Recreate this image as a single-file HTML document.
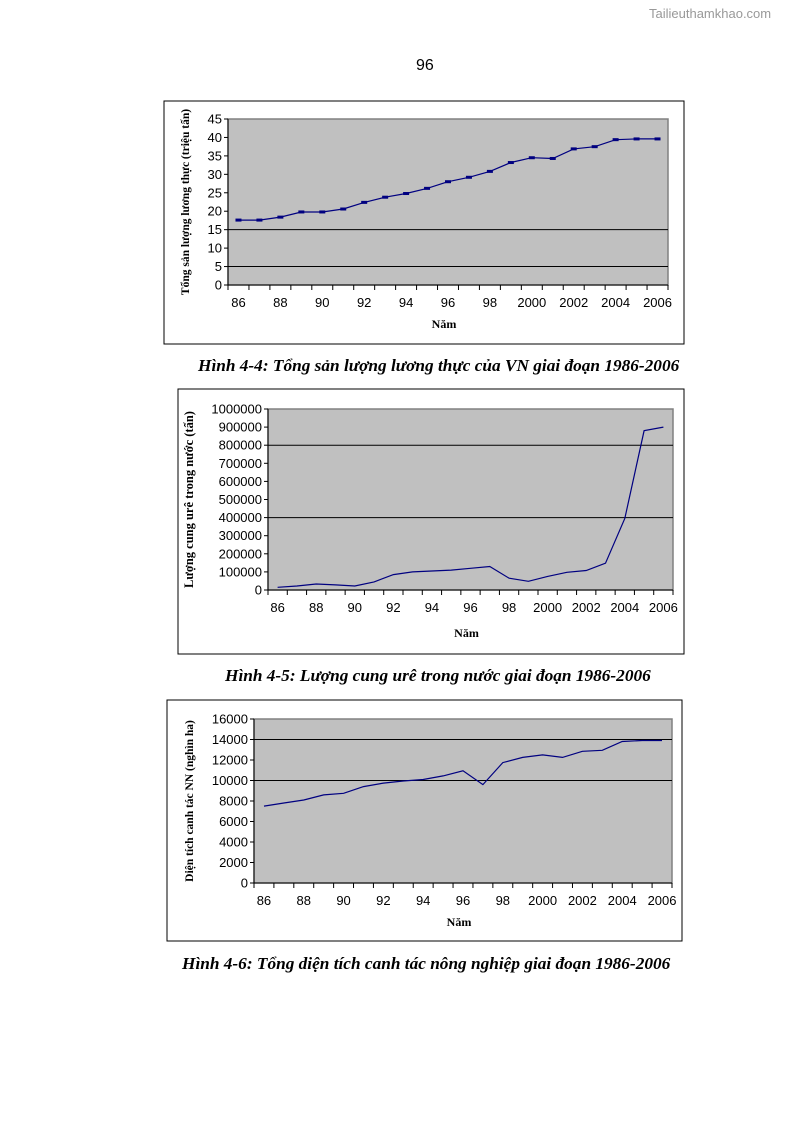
<!DOCTYPE html>
<html><head><meta charset="utf-8">
<style>
body{margin:0;width:794px;height:1123px;background:#fff;position:relative;overflow:hidden;font-family:"Liberation Sans",sans-serif}
.abs{position:absolute}
.cap{position:absolute;font-family:"Liberation Serif",serif;font-style:italic;font-weight:bold;font-size:17.3px;white-space:nowrap}
</style></head><body>
<div class="abs" style="left:649px;top:6px;font-size:13px;color:#999">Tailieuthamkhao.com</div>
<div class="abs" style="left:416px;top:57px;font-size:16px">96</div>
<svg id="svg" class="abs" style="left:0;top:0" width="794" height="1123"></svg>
<div class="cap" style="left:198px;top:356px">Hình 4-4: Tổng sản lượng lương thực của VN giai đoạn 1986-2006</div>
<div class="cap" style="left:225px;top:666px">Hình 4-5: Lượng cung urê trong nước giai đoạn 1986-2006</div>
<div class="cap" style="left:182px;top:954px">Hình 4-6: Tổng diện tích canh tác nông nghiệp giai đoạn 1986-2006</div>
<script>
const years = ["86","87","88","89","90","91","92","93","94","95","96","97","98","99","2000","2001","2002","2003","2004","2005","2006"];
const food = [17.6,17.6,18.4,19.8,19.8,20.6,22.4,23.8,24.8,26.2,28,29.2,30.8,33.2,34.5,34.3,36.9,37.5,39.4,39.6,39.6];
const urea = [15000,22000,33000,28000,22000,45000,85000,100000,105000,110000,120000,130000,65000,48000,75000,98000,108000,148000,395000,880000,900000];
const area = [7500,7800,8100,8600,8750,9400,9750,9950,10100,10450,10950,9600,11750,12250,12500,12250,12850,12950,13800,13900,13900];
const foodTicks = [0,5,10,15,20,25,30,35,40,45];
const ureaTicks = [0,100000,200000,300000,400000,500000,600000,700000,800000,900000,1000000];
const areaTicks = [0,2000,4000,6000,8000,10000,12000,14000,16000];
const NS="http://www.w3.org/2000/svg";
const svg=document.getElementById('svg');
function mk(tag,attrs,name,parent){const e=document.createElementNS(NS,tag);for(const k in attrs)e.setAttribute(k,attrs[k]);


(parent||svg).appendChild(e);return e;}
function chart(o){
  const g=mk('g',{},o.id);
  mk('rect',{x:o.box[0],y:o.box[1],width:o.box[2],height:o.box[3],fill:'#fff',stroke:'#000','stroke-width':1},'chart-frame',g);
  const L=o.p[0],T=o.p[1],R=o.p[2],B=o.p[3];
  mk('rect',{x:L,y:T,width:R-L,height:B-T,fill:'#c0c0c0',stroke:'#808080','stroke-width':1.5},'plot-area',g);
  const max=o.ticks[o.ticks.length-1];
  const Y=v=>B-(v/max)*(B-T);
  const n=years.length,cw=(R-L)/n;
  const X=i=>L+cw*(i+0.5);
  o.grid.forEach(v=>mk('line',{x1:L,x2:R,y1:Y(v),y2:Y(v),stroke:'#000','stroke-width':1},'gridline',g));
  mk('line',{x1:L,x2:L,y1:T,y2:B,stroke:'#000'},'y-axis',g);
  mk('line',{x1:L,x2:R,y1:B,y2:B,stroke:'#000'},'x-axis',g);
  o.ticks.forEach(v=>{mk('line',{x1:L-4,x2:L,y1:Y(v),y2:Y(v),stroke:'#000'},'y-tick',g);
    const t=mk('text',{x:L-6,y:Y(v)+4.5,'text-anchor':'end','font-size':13,'font-family':'Liberation Sans'},'y-tick-label',g);t.textContent=v;});
  for(let i=0;i<=n;i++)mk('line',{x1:L+cw*i,x2:L+cw*i,y1:B,y2:B+5,stroke:'#000'},'x-tick',g);
  years.forEach((y,i)=>{if(i%2===0){const t=mk('text',{x:X(i),y:B+22,'text-anchor':'middle','font-size':13,'font-family':'Liberation Sans'},'x-tick-label',g);t.textContent=y;}});
  const pts=o.data.map((v,i)=>X(i).toFixed(1)+','+Y(v).toFixed(1)).join(' ');
  mk('polyline',{points:pts,fill:'none',stroke:'#000080','stroke-width':1.2},'series-line',g);
  if(o.markers)o.data.forEach((v,i)=>mk('rect',{x:X(i)-3,y:Y(v)-1.5,width:6,height:3,fill:'#000080'},'point-marker',g));
  const xt=mk('text',{x:(L+R)/2-4,y:o.xty,'text-anchor':'middle','font-size':12,'font-weight':'bold','font-family':'Liberation Serif'},'x-axis-title',g);xt.textContent='Năm';
  const yt=mk('text',{x:0,y:0,'text-anchor':'middle','font-size':o.yfs,'font-weight':'bold','font-family':'Liberation Serif',transform:`translate(${o.ytx},${(T+B)/2}) rotate(-90)`},'y-axis-title',g);yt.textContent=o.ytitle;
}
chart({id:'chart-food',box:[164,101,520,243],p:[228,119,668,285],ticks:foodTicks,grid:[15,5],data:food,markers:true,xty:328,ytitle:'Tổng sản lượng lương thực (triệu tấn)',ytx:189,yfs:11.5});
chart({id:'chart-urea',box:[178,389,506,265],p:[268,409,673,590],ticks:ureaTicks,grid:[800000,400000],data:urea,markers:false,xty:637,ytitle:'Lượng cung urê trong nước (tấn)',ytx:193,yfs:12.5});
chart({id:'chart-area',box:[167,700,515,241],p:[254,719,672,883],ticks:areaTicks,grid:[14000,10000],data:area,markers:false,xty:926,ytitle:'Diện tích canh tác NN (nghìn ha)',ytx:193,yfs:11.5});
</script>
</body></html>
